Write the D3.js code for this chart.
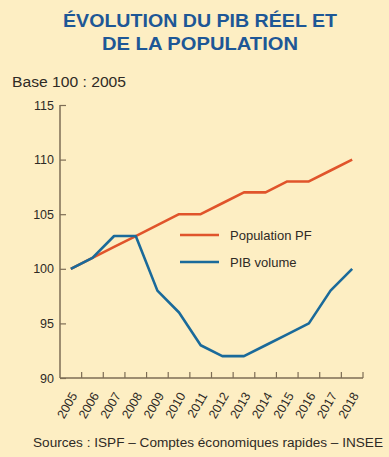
<!DOCTYPE html>
<html>
<head>
<meta charset="utf-8">
<script src="https://cdn.jsdelivr.net/npm/d3@7"></script>
<style>
  html, body { margin: 0; padding: 0; background: #fdeec3; }
  svg { display: block; font-family: "Liberation Sans", Arial, sans-serif; }
  .line { fill: none; stroke-width: 2.6; stroke-linejoin: round; }
</style>
</head>
<body>
<svg id="chart"></svg>
<script>
const years = ["2005","2006","2007","2008","2009","2010","2011","2012","2013","2014","2015","2016","2017","2018"];
const population = [100, 101, 102, 103, 104, 105, 105, 106, 107, 107, 108, 108, 109, 110];
const pib = [100, 101, 103, 103, 98, 96, 93, 92, 92, 93, 94, 95, 98, 100];
const yTicks = [90, 95, 100, 105, 110, 115];
const seriesNames = ["Population PF", "PIB volume"];

const width = 389;
const height = 457;
const axisColor = "#7d6d55";
const textColor = "#2e2a25";
const colors = ["#e0542b", "#1a6a9a"];

const svg = d3.select("#chart")
  .attr("width", width)
  .attr("height", height)
  .attr("viewBox", [0, 0, width, height]);

// шкалы
const x = d3.scaleBand(years, [60, 363]);
const y = d3.scaleLinear([90, 115], [378, 105]);

// titre
svg.append("text")
  .attr("x", 200).attr("y", 27)
  .attr("text-anchor", "middle")
  .attr("textLength", 274).attr("lengthAdjust", "spacingAndGlyphs")
  .attr("fill", "#1d5796")
  .style("font-size", "19px").style("font-weight", "bold")
  .text("ÉVOLUTION DU PIB RÉEL ET");
svg.append("text")
  .attr("x", 200).attr("y", 50)
  .attr("text-anchor", "middle")
  .attr("textLength", 196).attr("lengthAdjust", "spacingAndGlyphs")
  .attr("fill", "#1d5796")
  .style("font-size", "19px").style("font-weight", "bold")
  .text("DE LA POPULATION");

svg.append("text")
  .attr("x", 12).attr("y", 87)
  .attr("textLength", 114).attr("lengthAdjust", "spacingAndGlyphs")
  .attr("fill", textColor)
  .style("font-size", "14px")
  .text("Base 100 : 2005");

// axe Y
const gy = svg.append("g")
  .attr("transform", "translate(60,0)")
  .call(d3.axisRight(y).tickValues(yTicks).tickSize(6).tickPadding(-31).tickSizeOuter(0));
gy.select(".domain").attr("stroke", axisColor).attr("stroke-width", 1.5)
  .attr("d", `M0,${y(115)}V${y(90)}`);
gy.selectAll(".tick line").attr("stroke", axisColor).attr("stroke-width", 1.2);
gy.selectAll(".tick text")
  .attr("x", -6)
  .attr("text-anchor", "end")
  .attr("fill", textColor)
  .style("font-size", "12.5px");

// axe X
const gx = svg.append("g")
  .attr("transform", `translate(0,${y(90)})`);
gx.append("line")
  .attr("x1", 60).attr("x2", 363)
  .attr("stroke", axisColor).attr("stroke-width", 1.5);
gx.selectAll(".xtick")
  .data(years.slice(1).concat(["end"]))
  .enter().append("line")
  .attr("x1", d => d === "end" ? 363 : x(d))
  .attr("x2", d => d === "end" ? 363 : x(d))
  .attr("y1", 0).attr("y2", -6)
  .attr("stroke", axisColor).attr("stroke-width", 1.2);
gx.selectAll(".xlabel")
  .data(years)
  .enter().append("text")
  .attr("transform", d => `translate(${x(d) + x.bandwidth() / 2 + 7},${17.5}) rotate(-60)`)
  .attr("text-anchor", "end")
  .attr("fill", textColor)
  .style("font-size", "12.5px")
  .text(d => d);

// lignes
const line = d3.line()
  .x((d, i) => x(years[i]) + x.bandwidth() / 2)
  .y(d => y(d));

[population, pib].forEach((s, k) => {
  svg.append("path")
    .datum(s)
    .attr("class", "line")
    .attr("stroke", colors[k])
    .attr("d", line);
});

// légende
const legend = svg.append("g");
seriesNames.forEach((name, k) => {
  const ly = 235 + k * 27;
  legend.append("line")
    .attr("x1", 180).attr("x2", 219)
    .attr("y1", ly).attr("y2", ly)
    .attr("stroke", colors[k]).attr("stroke-width", 2.6);
  legend.append("text")
    .attr("x", 230).attr("y", ly + 4.5)
    .attr("fill", textColor)
    .style("font-size", "13px")
    .text(name);
});

svg.append("text")
  .attr("x", 383).attr("y", 447)
  .attr("text-anchor", "end")
  .attr("textLength", 350).attr("lengthAdjust", "spacingAndGlyphs")
  .attr("fill", textColor)
  .style("font-size", "12.5px")
  .text("Sources : ISPF – Comptes économiques rapides – INSEE");
</script>
</body>
</html>
